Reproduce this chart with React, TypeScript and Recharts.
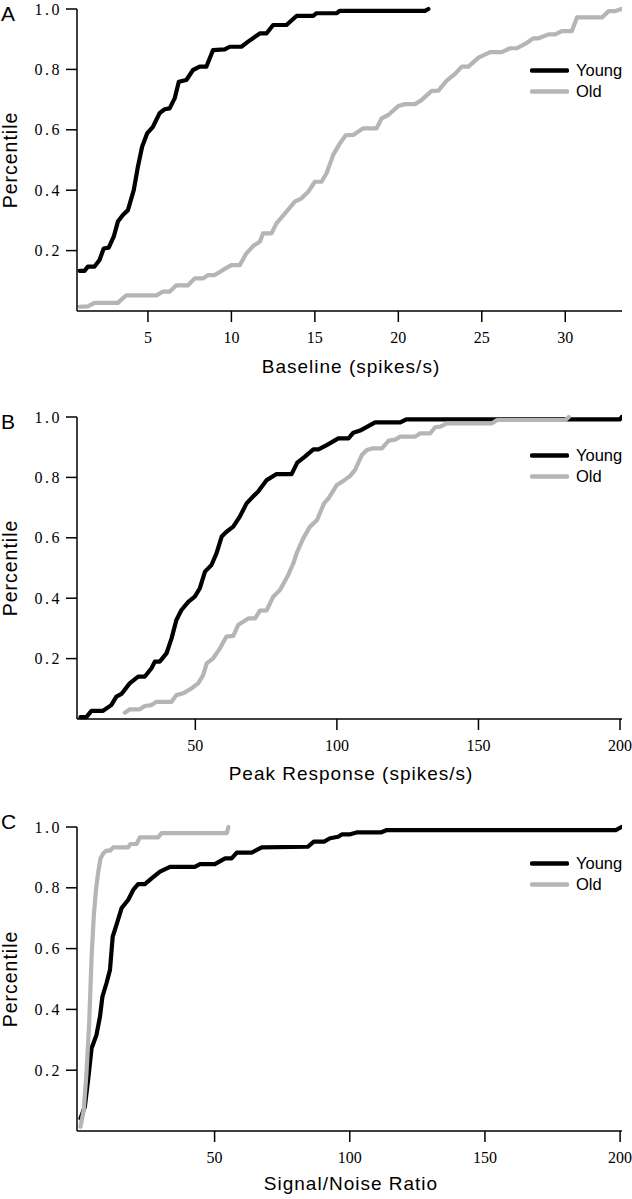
import React from 'react';
import { LineChart, Line, XAxis, YAxis, Legend } from 'recharts';

type Pt = [number, number];

// cumulative distributions: [value, percentile]
const baselineYoung: Pt[] = [
  [0.9, 0.133], [1.2, 0.133], [1.4, 0.147], [1.8, 0.147], [2.1, 0.169], [2.35, 0.207],
  [2.65, 0.21], [2.95, 0.246], [3.2, 0.296], [3.5, 0.318], [3.8, 0.334], [4.15, 0.4],
  [4.4, 0.478], [4.65, 0.544], [4.95, 0.588], [5.3, 0.61], [5.7, 0.655], [6.0, 0.668],
  [6.3, 0.671], [6.6, 0.704], [6.85, 0.759], [7.3, 0.765], [7.7, 0.798], [8.1, 0.809],
  [8.5, 0.809], [8.9, 0.864], [9.6, 0.866], [9.9, 0.875], [10.6, 0.875], [11.0, 0.892],
  [11.7, 0.919], [12.1, 0.919], [12.5, 0.947], [13.3, 0.947], [13.9, 0.977], [14.9, 0.977],
  [15.1, 0.986], [16.3, 0.986], [16.5, 0.994], [21.6, 0.994], [21.8, 1.0],
];
const baselineOld: Pt[] = [
  [0.9, 0.014], [1.4, 0.015], [1.8, 0.027], [3.2, 0.027], [3.7, 0.052], [5.5, 0.052],
  [5.9, 0.064], [6.3, 0.064], [6.7, 0.085], [7.4, 0.085], [7.8, 0.108], [8.3, 0.108],
  [8.6, 0.119], [9.0, 0.119], [9.5, 0.136], [10.0, 0.152], [10.5, 0.152], [10.9, 0.191],
  [11.3, 0.215], [11.7, 0.229], [11.9, 0.257], [12.4, 0.257], [12.7, 0.29], [13.3, 0.329],
  [13.8, 0.362], [14.2, 0.373], [14.6, 0.395], [15.0, 0.428], [15.4, 0.428], [15.7, 0.456],
  [16.1, 0.517], [16.5, 0.555], [16.85, 0.582], [17.3, 0.583], [17.9, 0.605], [18.7, 0.605],
  [19.0, 0.638], [19.4, 0.649], [20.0, 0.679], [20.4, 0.685], [21.0, 0.685], [21.4, 0.699],
  [22.0, 0.729], [22.4, 0.73], [22.9, 0.763], [23.4, 0.785], [23.8, 0.809], [24.2, 0.809],
  [24.8, 0.839], [25.5, 0.857], [26.2, 0.857], [26.7, 0.87], [27.1, 0.87], [27.7, 0.888],
  [28.1, 0.903], [28.4, 0.903], [29.0, 0.916], [29.4, 0.916], [29.8, 0.927], [30.4, 0.927],
  [30.7, 0.972], [32.2, 0.972], [32.6, 0.993], [33.0, 0.993], [33.35, 1.0],
];

const peakYoung: Pt[] = [
  [9.4, 0.006], [11.5, 0.006], [13.3, 0.027], [17.4, 0.027], [20.3, 0.046], [22.1, 0.074],
  [23.9, 0.083], [26.8, 0.118], [29.8, 0.14], [32.1, 0.14], [34.5, 0.168], [35.7, 0.19],
  [37.4, 0.19], [39.8, 0.217], [41.6, 0.267], [43.3, 0.328], [45.1, 0.361], [47.5, 0.388],
  [49.8, 0.405], [51.6, 0.433], [53.4, 0.488], [55.7, 0.51], [57.5, 0.549], [59.3, 0.604],
  [61.0, 0.62], [63.4, 0.637], [65.7, 0.67], [68.1, 0.714], [70.5, 0.738], [72.2, 0.753],
  [75.2, 0.791], [78.7, 0.811], [84.0, 0.811], [86.0, 0.849], [88.7, 0.869], [91.7, 0.893],
  [93.5, 0.893], [96.4, 0.907], [100.5, 0.929], [104.1, 0.929], [105.8, 0.948], [108.2, 0.955],
  [113.5, 0.982], [122.4, 0.982], [124.5, 0.992], [200.0, 0.992], [200.6, 1.0],
];
const peakOld: Pt[] = [
  [25.1, 0.021], [26.8, 0.032], [30.4, 0.032], [32.1, 0.043], [34.5, 0.046], [36.3, 0.057],
  [41.6, 0.057], [43.3, 0.079], [45.7, 0.085], [48.7, 0.102], [51.0, 0.118], [52.8, 0.146],
  [54.0, 0.184], [56.3, 0.201], [58.7, 0.234], [61.0, 0.273], [63.4, 0.275], [65.1, 0.311],
  [68.7, 0.333], [71.1, 0.333], [72.8, 0.359], [75.2, 0.36], [77.5, 0.405], [79.9, 0.427],
  [82.8, 0.477], [84.6, 0.515], [85.8, 0.549], [88.1, 0.598], [90.5, 0.637], [93.0, 0.659],
  [95.5, 0.715], [97.0, 0.73], [100.0, 0.775], [102.5, 0.79], [104.7, 0.805], [106.4, 0.825],
  [108.8, 0.874], [110.6, 0.891], [112.4, 0.896], [115.9, 0.896], [118.3, 0.922], [120.6, 0.925],
  [122.4, 0.935], [127.7, 0.935], [129.4, 0.946], [133.0, 0.946], [134.7, 0.966], [136.5, 0.968],
  [138.9, 0.979], [154.8, 0.979], [156.6, 0.99], [180.7, 0.99], [181.9, 1.0],
];

const snrYoung: Pt[] = [
  [0.4, 0.042], [2.0, 0.08], [3.2, 0.168], [4.5, 0.272], [6.3, 0.316], [7.6, 0.376],
  [8.5, 0.442], [10.0, 0.486], [11.3, 0.53], [12.3, 0.639], [13.7, 0.678], [15.6, 0.733],
  [18.0, 0.76], [19.9, 0.793], [21.7, 0.812], [24.2, 0.812], [26.7, 0.831], [29.8, 0.853],
  [33.5, 0.869], [42.7, 0.869], [44.6, 0.878], [50.1, 0.878], [53.9, 0.897], [56.3, 0.897],
  [58.2, 0.916], [63.7, 0.916], [67.4, 0.933], [84.5, 0.935], [86.7, 0.952], [90.5, 0.952],
  [92.7, 0.963], [95.7, 0.968], [97.2, 0.976], [100.2, 0.976], [102.5, 0.982], [111.5, 0.982],
  [113.7, 0.99], [198.4, 0.99], [200.5, 1.0],
];
const snrOld: Pt[] = [
  [0.4, 0.014], [1.6, 0.069], [2.6, 0.19], [3.6, 0.354], [4.5, 0.573], [5.3, 0.705],
  [6.1, 0.793], [6.9, 0.848], [7.8, 0.897], [8.8, 0.913], [10.0, 0.922], [11.3, 0.922],
  [12.5, 0.933], [18.0, 0.933], [18.9, 0.944], [21.1, 0.944], [22.4, 0.966], [29.1, 0.966],
  [30.4, 0.98], [54.5, 0.98], [55.1, 1.0],
];

const seriesNames = ['Young', 'Old'];
const percentTicks = [0.2, 0.4, 0.6, 0.8, 1.0];
const baselineTicks = [5, 10, 15, 20, 25, 30];
const responseTicks = [50, 100, 150, 200];

const YOUNG = '#000000';
const OLD = '#b5b5b5';
const SANS = '"Liberation Sans", Arial, sans-serif';
const SERIF = '"Liberation Serif", "Times New Roman", serif';

const toRows = (pts: Pt[]) => pts.map(([x, y]) => ({ x, y }));

// legend keeps the series order (recharts sorts by name otherwise)
const LegendBox = (props: any) => {
  const items = [...(props.payload || [])].sort(
    (a: any, b: any) => seriesNames.indexOf(a.value) - seriesNames.indexOf(b.value),
  );
  return (
    <div>
      {items.map((p: any) => (
        <div key={p.value} style={{ display: 'flex', alignItems: 'center', height: 21 }}>
          <svg width={39} height={21}>
            <line x1={2} x2={37} y1={10.5} y2={10.5} stroke={p.color} strokeWidth={4.5} strokeLinecap="round" />
          </svg>
          <span style={{ marginLeft: 7, fontFamily: SANS, fontSize: 16.5, color: '#000' }}>{p.value}</span>
        </div>
      ))}
    </div>
  );
};

interface PanelProps {
  top: number;
  plotHeight: number;
  axisHeight: number;
  labelOffset: number;
  legendTop: number;
  xLabel: string;
  xDomain: [number, number];
  xTicks: number[];
  young: Pt[];
  old: Pt[];
}

const Panel = ({ top, plotHeight, axisHeight, labelOffset, legendTop, xLabel, xDomain, xTicks, young, old }: PanelProps) => {
  const marginTop = 9;
  const height = marginTop + plotHeight + axisHeight;
  const axisStyle = { stroke: '#000', strokeWidth: 1.5 };
  return (
    <div style={{ position: 'absolute', left: 0, top }}>
      <LineChart width={632} height={height} margin={{ top: marginTop, right: 10, left: 0, bottom: 0 }}>
        <XAxis
          type="number"
          dataKey="x"
          domain={xDomain}
          ticks={xTicks}
          interval={0}
          allowDataOverflow
          height={axisHeight}
          tickSize={11}
          tickMargin={10}
          axisLine={axisStyle}
          tickLine={axisStyle}
          tick={{ fill: '#000', fontSize: 16, fontFamily: SERIF, style: { fontFamily: SERIF } }}
          label={{
            value: xLabel,
            position: 'insideBottom',
            offset: labelOffset,
            dx: 1.5,
            fill: '#000',
            fontSize: 19,
            fontFamily: SANS,
            style: { letterSpacing: '1px', fontFamily: SANS },
          }}
        />
        <YAxis
          type="number"
          domain={[0, 1]}
          ticks={percentTicks}
          interval={0}
          width={77}
          tickSize={11}
          tickMargin={4}
          axisLine={axisStyle}
          tickLine={axisStyle}
          tickFormatter={(v: number) => v.toFixed(1)}
          tick={{ fill: '#000', fontSize: 16, fontFamily: SERIF, style: { letterSpacing: '2.5px', fontFamily: SERIF } }}
          label={{
            value: 'Percentile',
            angle: -90,
            position: 'center',
            dx: -28.5,
            fill: '#000',
            fontSize: 19.5,
            fontFamily: SANS,
            style: { letterSpacing: '1px', fontFamily: SANS },
          }}
        />
        <Legend
          layout="vertical"
          align="center"
          verticalAlign="middle"
          content={LegendBox}
          wrapperStyle={{ top: legendTop, left: 530, width: 'auto', height: 'auto' }}
        />
        <Line
          name="Young"
          data={toRows(young)}
          dataKey="y"
          type="linear"
          stroke={YOUNG}
          strokeWidth={4.2}
          strokeLinecap="round"
          strokeLinejoin="round"
          dot={false}
          activeDot={false}
          isAnimationActive={false}
        />
        <Line
          name="Old"
          data={toRows(old)}
          dataKey="y"
          type="linear"
          stroke={OLD}
          strokeWidth={4.2}
          strokeLinecap="round"
          strokeLinejoin="round"
          dot={false}
          activeDot={false}
          isAnimationActive={false}
        />
      </LineChart>
    </div>
  );
};

export default function App() {
  return (
    <div style={{ position: 'absolute', left: 0, top: 0, width: 632, height: 1199, overflow: 'hidden', background: '#fff' }}>
      <Panel
        top={0}
        plotHeight={302}
        axisHeight={70}
        labelOffset={8}
        legendTop={59.5}
        xLabel="Baseline (spikes/s)"
        xDomain={[0.75, 33.4]}
        xTicks={baselineTicks}
        young={baselineYoung}
        old={baselineOld}
      />
      <Panel
        top={408}
        plotHeight={302}
        axisHeight={70}
        labelOffset={9}
        legendTop={36.5}
        xLabel="Peak Response (spikes/s)"
        xDomain={[8.2, 200.7]}
        xTicks={responseTicks}
        young={peakYoung}
        old={peakOld}
      />
      <Panel
        top={818}
        plotHeight={304}
        axisHeight={66}
        labelOffset={7}
        legendTop={35}
        xLabel="Signal/Noise Ratio"
        xDomain={[-0.9, 200.7]}
        xTicks={responseTicks}
        young={snrYoung}
        old={snrOld}
      />
      <svg width={632} height={1199} style={{ position: 'absolute', left: 0, top: 0, pointerEvents: 'none' }}>
        <text x={1} y={21} fontFamily={SANS} fontSize={21} fill="#000">A</text>
        <text x={1} y={429} fontFamily={SANS} fontSize={21} fill="#000">B</text>
        <text x={1} y={829} fontFamily={SANS} fontSize={21} fill="#000">C</text>
      </svg>
    </div>
  );
}
